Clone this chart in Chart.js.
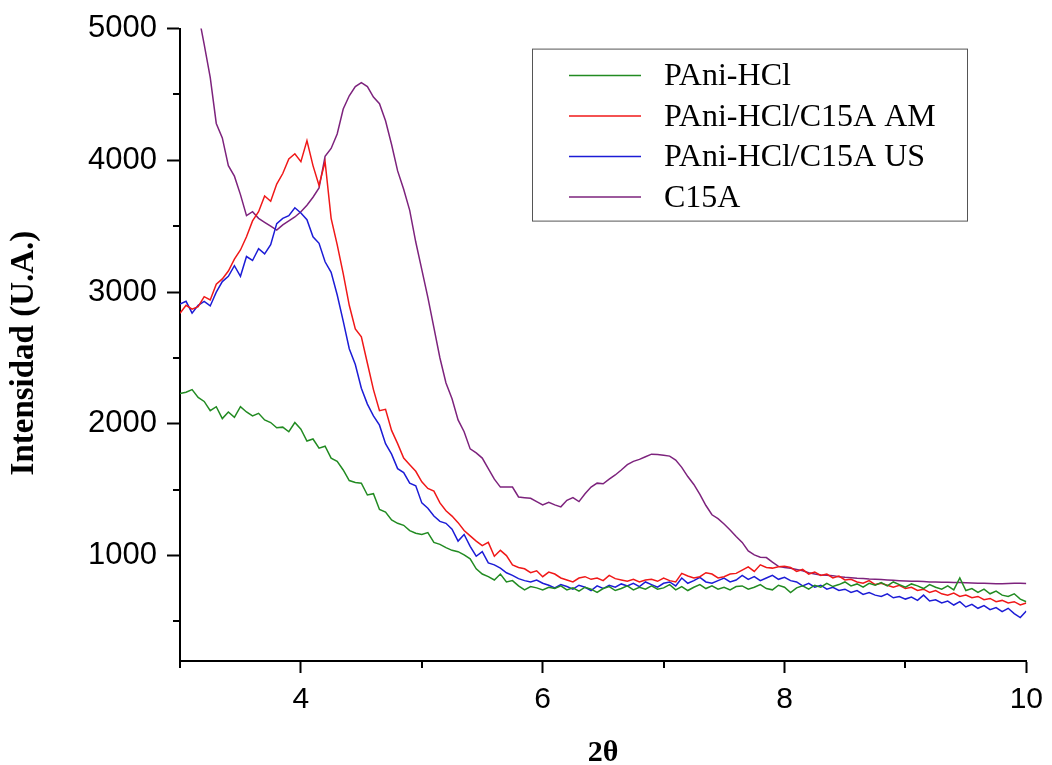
<!DOCTYPE html>
<html>
<head>
<meta charset="utf-8">
<title>DRX PAni-HCl / C15A</title>
<script src="https://cdn.jsdelivr.net/npm/chart.js@4.4.0/dist/chart.umd.min.js"></script>
<style>
  html, body { margin: 0; padding: 0; background: #fff; }
  #wrap { width: 1052px; height: 765px; position: relative; }
</style>
</head>
<body>
<div id="wrap"><canvas id="xrd"></canvas></div>
<script>
// 2θ scan grid (step 0.05)
const twoTheta = [
  3.00, 3.05, 3.10, 3.15, 3.20, 3.25, 3.30, 3.35, 3.40, 3.45,
  3.50, 3.55, 3.60, 3.65, 3.70, 3.75, 3.80, 3.85, 3.90, 3.95,
  4.00, 4.05, 4.10, 4.15, 4.20, 4.25, 4.30, 4.35, 4.40, 4.45,
  4.50, 4.55, 4.60, 4.65, 4.70, 4.75, 4.80, 4.85, 4.90, 4.95,
  5.00, 5.05, 5.10, 5.15, 5.20, 5.25, 5.30, 5.35, 5.40, 5.45,
  5.50, 5.55, 5.60, 5.65, 5.70, 5.75, 5.80, 5.85, 5.90, 5.95,
  6.00, 6.05, 6.10, 6.15, 6.20, 6.25, 6.30, 6.35, 6.40, 6.45,
  6.50, 6.55, 6.60, 6.65, 6.70, 6.75, 6.80, 6.85, 6.90, 6.95,
  7.00, 7.05, 7.10, 7.15, 7.20, 7.25, 7.30, 7.35, 7.40, 7.45,
  7.50, 7.55, 7.60, 7.65, 7.70, 7.75, 7.80, 7.85, 7.90, 7.95,
  8.00, 8.05, 8.10, 8.15, 8.20, 8.25, 8.30, 8.35, 8.40, 8.45,
  8.50, 8.55, 8.60, 8.65, 8.70, 8.75, 8.80, 8.85, 8.90, 8.95,
  9.00, 9.05, 9.10, 9.15, 9.20, 9.25, 9.30, 9.35, 9.40, 9.45,
  9.50, 9.55, 9.60, 9.65, 9.70, 9.75, 9.80, 9.85, 9.90, 9.95,
  10.00
];

const paniHcl = [
  2230, 2240, 2260, 2200, 2170, 2100, 2130, 2040, 2090, 2050,
  2130, 2090, 2060, 2080, 2030, 2010, 1970, 1975, 1940, 2010,
  1960, 1870, 1885, 1815, 1830, 1740, 1715, 1650, 1570, 1555,
  1550, 1460, 1470, 1350, 1330, 1270, 1245, 1230, 1190, 1170,
  1160, 1175, 1100, 1085, 1060, 1040, 1030, 1005, 975, 900,
  860, 840, 815, 860, 800, 810, 770, 740, 765, 755,
  740, 760, 750, 770, 740, 755, 730, 760, 745, 720,
  750, 765, 735, 750, 770, 740, 760, 745, 770, 745,
  755, 780, 740, 765, 735, 760, 780, 750, 770, 745,
  760, 740, 765, 770, 745, 760, 780, 750, 740, 775,
  760, 720, 755, 770, 745, 775, 760, 790, 765, 780,
  800, 770, 785, 760, 790, 775, 795, 770, 800, 780,
  760, 785, 770, 750, 780, 760, 745, 770, 740, 830,
  735, 750, 720, 745, 710, 730, 700, 690, 710, 670,
  650
];

const paniC15aAM = [
  2840, 2900, 2870, 2890, 2965, 2940, 3060, 3100, 3160, 3250,
  3320, 3420, 3540, 3610, 3730, 3690, 3820, 3900, 4010, 4050,
  3990, 4150, 3960, 3810, 3990, 3560, 3360, 3140, 2900, 2720,
  2660, 2460, 2260, 2100, 2110, 1950, 1850, 1740, 1690, 1640,
  1560, 1510, 1490, 1400, 1340, 1300, 1250, 1190, 1150, 1110,
  1075, 1100, 995, 1040, 1000, 930, 910, 900, 870, 885,
  840, 875, 860, 830, 815, 800, 830, 840, 820, 830,
  810, 850, 825, 815, 805, 820, 800, 815, 820, 805,
  830, 810, 800, 865, 845, 830, 840, 870, 860, 830,
  840, 860, 865, 890, 915, 880, 930, 910, 905, 915,
  920, 910, 880, 895, 860, 875, 850, 860, 830, 845,
  815, 820, 800, 790, 810, 780, 790, 775, 760, 775,
  750, 760, 735, 745, 720, 735, 710, 700, 715, 690,
  700, 680, 690, 665, 675, 650, 660, 640, 650, 625,
  640
];

const paniC15aUS = [
  2910, 2930, 2840, 2900, 2930, 2895, 3000, 3080, 3120, 3200,
  3120, 3270, 3240, 3330, 3290, 3360, 3520, 3560, 3580, 3640,
  3600, 3550, 3420, 3370, 3230, 3150, 2980, 2780, 2570, 2450,
  2270, 2150, 2060, 1990, 1850, 1770, 1660, 1630, 1550, 1530,
  1400, 1360, 1300, 1260, 1245, 1200, 1110, 1160, 1070, 995,
  1030, 945, 930, 905, 870, 850, 825, 810, 800, 815,
  790, 775, 755, 780, 765, 745, 775, 760, 735, 770,
  750, 775, 760, 785, 770, 790, 765, 800, 780, 760,
  790, 800, 770, 830, 790, 810, 835, 800, 790, 810,
  830, 800, 815, 850, 820, 840, 810, 830, 850, 820,
  835, 810, 800, 770, 790, 760, 775, 745, 760, 735,
  745, 720, 735, 705, 720, 700, 690, 710, 680, 690,
  670, 685, 660, 700, 655, 665, 640, 655, 625, 650,
  610, 630, 600, 620, 590, 605, 575, 600, 560, 530,
  580
];

const c15a = [
  null, null, null, 5120, 4880, 4630, 4280, 4170, 3960, 3880,
  3740, 3580, 3610, 3560, 3530, 3500, 3470, 3510, 3540, 3570,
  3610, 3660, 3720, 3790, 4030, 4090, 4200, 4390, 4490, 4560,
  4590, 4560, 4480, 4430, 4300, 4120, 3920, 3780, 3620, 3380,
  3170, 2960, 2730, 2500, 2310, 2190, 2030, 1940, 1810, 1780,
  1740, 1660, 1580, 1520, 1520, 1520, 1445, 1440, 1435, 1410,
  1385, 1405, 1385, 1370, 1420, 1440, 1410, 1470, 1520, 1550,
  1545, 1580, 1612, 1650, 1690, 1715, 1730, 1750, 1770, 1768,
  1762, 1755, 1725, 1670, 1600, 1540, 1465, 1380, 1310, 1280,
  1240, 1195, 1145, 1100, 1035, 1005, 988, 985, 950, 918,
  910, 904, 895, 885, 870, 860, 852, 850, 848, 840,
  835, 832, 828, 826, 822, 820, 818, 815, 812, 810,
  808, 806, 805, 803, 800, 800, 798, 797, 795, 795,
  793, 792, 790, 790, 788, 787, 786, 788, 790, 790,
  788
];

const seriesNames = ['PAni-HCl', 'PAni-HCl/C15A AM', 'PAni-HCl/C15A US', 'C15A'];
const seriesValues = [paniHcl, paniC15aAM, paniC15aUS, c15a];
const seriesColors = ['#228b22', '#f01818', '#1c1cd6', '#7d237d'];

const xMajorTicks = [4, 6, 8, 10];
const xMinorTicks = [3, 5, 7, 9];
const yMajorTicks = [1000, 2000, 3000, 4000, 5000];
const yMinorTicks = [500, 1500, 2500, 3500, 4500];

// short ticks between the labelled ones
const minorTicks = {
    id: 'minorTicks',
    afterDraw(chart) {
        const { ctx, chartArea, scales } = chart;
        ctx.save();
        ctx.strokeStyle = '#000';
        ctx.lineWidth = 2;
        ctx.beginPath();
        yMinorTicks.forEach(v => {
            const y = Math.round(scales.y.getPixelForValue(v));
            ctx.moveTo(chartArea.left - 7, y);
            ctx.lineTo(chartArea.left, y);
        });
        xMinorTicks.forEach(v => {
            const x = Math.round(scales.x.getPixelForValue(v));
            ctx.moveTo(x, chartArea.bottom);
            ctx.lineTo(x, chartArea.bottom + 7);
        });
        ctx.stroke();
        ctx.restore();
    }
};

// boxed legend sitting inside the plot, Origin style
const boxLegend = {
    id: 'boxLegend',
    afterDatasetsDraw(chart) {
        const { ctx, chartArea } = chart;
        const left = chartArea.left + 352;
        const top = chartArea.top + 20;
        const w = 435, h = 172;
        ctx.save();
        ctx.fillStyle = '#fff';
        ctx.fillRect(left, top, w, h);
        ctx.strokeStyle = '#555';
        ctx.lineWidth = 1;
        ctx.strokeRect(left + 0.5, top + 0.5, w, h);
        ctx.font = '32px "Liberation Serif", "Times New Roman", serif';
        ctx.textBaseline = 'middle';
        chart.data.datasets.forEach((ds, i) => {
            const y = top + 27 + i * 40.5;
            ctx.strokeStyle = ds.borderColor;
            ctx.lineWidth = 1.5;
            ctx.beginPath();
            ctx.moveTo(left + 37, y);
            ctx.lineTo(left + 109, y);
            ctx.stroke();
            ctx.fillStyle = '#000';
            ctx.fillText(ds.label, left + 132, y + 1);
        });
        ctx.restore();
    }
};

const datasets = seriesNames.map((name, i) => ({
    label: name,
    data: twoTheta.map((t, j) => ({ x: t, y: seriesValues[i][j] })),
    borderColor: seriesColors[i],
    backgroundColor: seriesColors[i],
    borderWidth: 1.5,
    pointRadius: 0,
    tension: 0,
    fill: false
}));

new Chart(document.getElementById('xrd'), {
    type: 'line',
    data: { datasets },
    options: {
        responsive: true,
        maintainAspectRatio: false,
        animation: false,
        layout: { padding: { left: 0, right: 22, top: 27, bottom: 0 } },
        plugins: {
            legend: { display: false },
            tooltip: { enabled: false }
        },
        scales: {
            x: {
                type: 'linear',
                min: 3,
                max: 10,
                afterBuildTicks: s => { s.ticks = xMajorTicks.map(v => ({ value: v })); },
                afterFit: s => { s.height = 104; },
                grid: { display: true, drawOnChartArea: false, drawTicks: true, tickLength: 12, tickWidth: 2, tickColor: '#000' },
                border: { display: true, color: '#000', width: 2 },
                ticks: {
                    color: '#000',
                    font: { family: '"Liberation Sans", Arial, sans-serif', size: 30 },
                    padding: 9,
                    maxRotation: 0,
                    autoSkip: false,
                    callback: v => String(v)
                },
                title: {
                    display: true,
                    text: '2θ',
                    color: '#000',
                    font: { family: '"Liberation Serif", "Times New Roman", serif', size: 30, weight: 'bold', lineHeight: 0.8 },
                    padding: { top: 0, bottom: 0 }
                }
            },
            y: {
                min: 200,
                max: 5000,
                afterBuildTicks: s => { s.ticks = yMajorTicks.map(v => ({ value: v })); },
                afterFit: s => { s.width = 180; },
                grid: { display: true, drawOnChartArea: false, drawTicks: true, tickLength: 13, tickWidth: 2, tickColor: '#000' },
                border: { display: true, color: '#000', width: 2 },
                ticks: {
                    color: '#000',
                    font: { family: '"Liberation Sans", Arial, sans-serif', size: 31 },
                    padding: 10,
                    callback: v => String(v)
                },
                title: {
                    display: true,
                    text: 'Intensidad (U.A.)\u00a0\u00a0',
                    color: '#000',
                    font: { family: '"Liberation Serif", "Times New Roman", serif', size: 33, weight: 'bold', lineHeight: 1 },
                    padding: { top: 8, bottom: 0 }
                }
            }
        }
    },
    plugins: [minorTicks, boxLegend]
});
</script>
</body>
</html>
